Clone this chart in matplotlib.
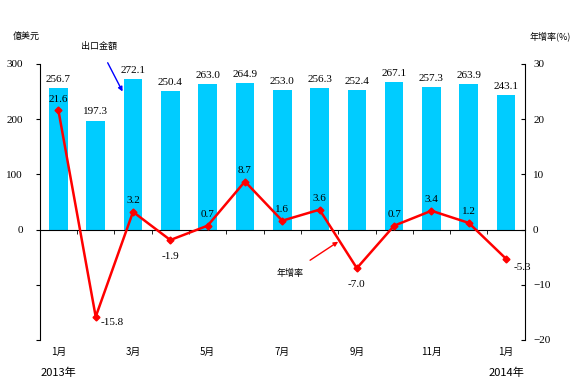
import matplotlib.pyplot as plt
from matplotlib import transforms

plt.rcParams['font.family'] = ['Liberation Serif', 'Noto Sans CJK TC']

months = ['1月', '2月', '3月', '4月', '5月', '6月', '7月', '8月', '9月', '10月', '11月', '12月', '1月']
exports = [256.7, 197.3, 272.1, 250.4, 263.0, 264.9, 253.0, 256.3, 252.4, 267.1, 257.3, 263.9, 243.1]
growth = [21.6, -15.8, 3.2, -1.9, 0.7, 8.7, 1.6, 3.6, -7.0, 0.7, 3.4, 1.2, -5.3]
# offsets (points) for growth labels
g_off = [(0, 8), (12, -4), (0, 8), (0, -12), (0, 8), (0, 8), (0, 8), (0, 8),
         (0, -12), (0, 8), (0, 8), (0, 8), (12, -6)]

cjk = ['Noto Sans CJK TC']

fig = plt.figure(figsize=(5.76, 3.85), dpi=100)
ax = fig.add_axes([0.069, 0.117, 0.842, 0.717])
x = list(range(len(months)))

ax.bar(x, exports, width=0.5, color='#00CCFF', zorder=2)
for i, v in enumerate(exports):
    ax.annotate(f'{v:.1f}', (i, v), xytext=(0, 3), textcoords='offset points',
                ha='center', va='bottom', fontsize=8)

ax.set_xlim(-0.5, len(months) - 0.5)
ax.set_ylim(-200, 300)
ax.set_yticks([-200, -100, 0, 100, 200, 300])
ax.set_yticklabels(['', '', '0', '100', '200', '300'], fontsize=8)
ax.tick_params(axis='y', direction='out', length=3, pad=9)
ax.spines['top'].set_visible(False)
ax.spines['right'].set_visible(False)
ax.spines['bottom'].set_position(('data', 0))
ax.set_xticks([])
ax.set_xticks([i + 0.5 for i in x[:-1]], minor=True)
ax.tick_params(axis='x', which='minor', direction='out', length=3)

tr = transforms.blended_transform_factory(ax.transData, ax.transAxes)
for i in x[::2]:
    ax.text(i, -0.045, months[i], transform=tr, ha='center', va='center',
            fontsize=7, family=cjk)
ax.text(0, -0.12, '2013年', transform=tr, ha='center', va='center', fontsize=8, family=cjk)
ax.text(x[-1], -0.12, '2014年', transform=tr, ha='center', va='center', fontsize=8, family=cjk)

ax2 = ax.twinx()
ax2.plot(x, growth, color='red', lw=1.8, marker='D', markersize=3.5, zorder=3)
for i, v in enumerate(growth):
    ax2.annotate(f'{v:.1f}', (i, v), xytext=g_off[i], textcoords='offset points',
                 ha='center', va='center', fontsize=8)
ax2.set_ylim(-20, 30)
ax2.set_yticks([-20, -10, 0, 10, 20, 30])
ax2.tick_params(axis='y', direction='in', length=3, pad=6, labelsize=8)
for s in ['top', 'left', 'bottom']:
    ax2.spines[s].set_visible(False)

fig.text(0.045, 0.905, '億美元', family=cjk, fontsize=6.5, ha='center', va='center')
fig.text(0.955, 0.905, '年增率(%)', family=cjk, fontsize=6.5, ha='center', va='center')

ax.annotate('出口金額', xy=(1.72, 250), xytext=(1.1, 331), fontsize=6.5, family=cjk,
            ha='center', va='center', annotation_clip=False,
            arrowprops=dict(arrowstyle='-|>', color='blue', lw=1, shrinkA=7, shrinkB=0))
ax.annotate('年增率', xy=(7.5, -22), xytext=(6.2, -80), fontsize=6.5, family=cjk,
            ha='center', va='center',
            arrowprops=dict(arrowstyle='-|>', color='red', lw=1, shrinkA=8, shrinkB=0))

fig.savefig('out.png', dpi=100)
